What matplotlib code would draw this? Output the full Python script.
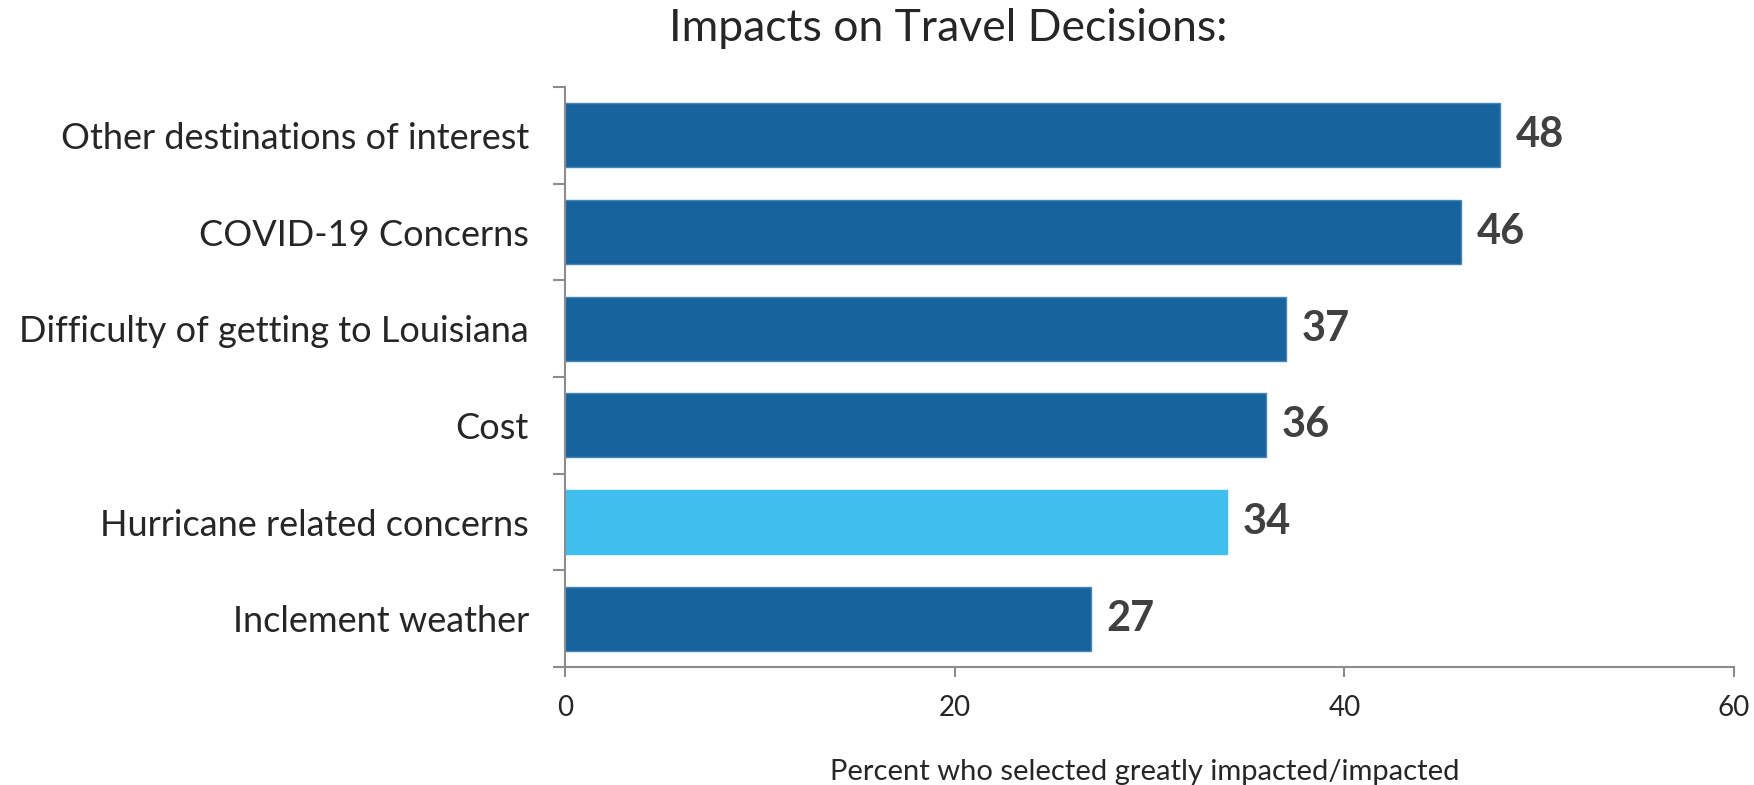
import matplotlib.pyplot as plt

plt.rcParams['font.family'] = ['Lato', 'DejaVu Sans']

# categories listed top to bottom
categories = ['Other destinations of interest', 'COVID-19 Concerns',
              'Difficulty of getting to Louisiana', 'Cost',
              'Hurricane related concerns', 'Inclement weather']
values = [48, 46, 37, 36, 34, 27]
highlight = 'Hurricane related concerns'

dark_blue = '#17639d'
light_blue = '#3fbfed'
axis_grey = '#8c8c8c'
text_col = '#262626'

fig = plt.figure(figsize=(17.54, 7.85), dpi=100)
ax = fig.add_axes([565 / 1754, 1 - 667 / 785, (1734 - 565) / 1754, (667 - 87) / 785])

ypos = list(range(len(categories)))[::-1]
colors = [light_blue if c == highlight else dark_blue for c in categories]
bars = ax.barh(ypos, values, height=0.66, color=colors,
               edgecolor=[light_blue if c == highlight else '#4a86b5' for c in categories],
               linewidth=1)

for y, v in zip(ypos, values):
    ax.text(v + 0.8, y, str(v), va='center', ha='left', fontsize=30,
            fontweight='bold', color='#404040')

ax.set_xlim(0, 60)
ax.set_ylim(-0.5, len(categories) - 0.5)
ax.set_xticks([0, 20, 40, 60])
ax.tick_params(axis='x', direction='out', length=7, width=1.5, color=axis_grey,
               labelsize=20, labelcolor=text_col, pad=13)

# category boundaries carry the y ticks; names sit between them
ax.set_yticks([i - 0.5 for i in range(len(categories) + 1)])
ax.set_yticklabels([])
ax.tick_params(axis='y', direction='out', length=9, width=1.5, color=axis_grey)
ax.set_yticks(ypos, minor=True)
ax.set_yticklabels(categories, minor=True)
ax.tick_params(axis='y', which='minor', length=0, labelsize=26,
               labelcolor=text_col, pad=26)

for side in ['top', 'right']:
    ax.spines[side].set_visible(False)
for side in ['left', 'bottom']:
    ax.spines[side].set_color(axis_grey)
    ax.spines[side].set_linewidth(1.5)

fig.text(1145 / 1754, 1 - 780 / 785, 'Percent who selected greatly impacted/impacted',
         ha='center', va='baseline', fontsize=21, color=text_col)
fig.text(948 / 1754, 1 - 41 / 785, 'Impacts on Travel Decisions:',
         ha='center', va='baseline', fontsize=32, color=text_col)

fig.savefig('out.png', dpi=100)
